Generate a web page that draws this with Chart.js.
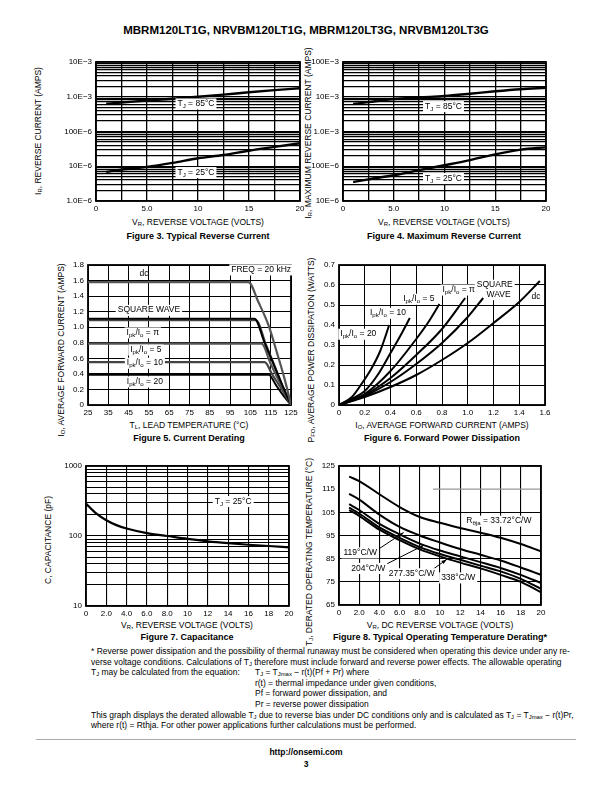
<!DOCTYPE html>
<html>
<head>
<meta charset="utf-8">
<script src="https://cdn.jsdelivr.net/npm/chart.js@4.4.1/dist/chart.umd.min.js"></script>
<style>
  body { margin: 0; width: 612px; height: 792px; position: relative; background: #fff;
         font-family: "Liberation Sans", Arial, Helvetica, sans-serif; color: #000; overflow: hidden; }
  .c { position: absolute; transform: translate(-50%, -50%); white-space: nowrap; font-size: 8.5px; }
  .r { position: absolute; transform: translate(-50%, -50%) rotate(-90deg); white-space: nowrap; font-size: 8.5px; }
  .cap { font-weight: bold; font-size: 9px; }
  .l { position: absolute; white-space: nowrap; font-size: 8.45px; }
  sub { font-size: 70%; vertical-align: -0.25em; line-height: 0; }
</style>
</head>
<body>

<div class="c" style="left:306px;top:30px;font-weight:bold;font-size:11.5px">MBRM120LT1G, NRVBM120LT1G, MBRM120LT3G, NRVBM120LT3G</div>

<!-- axis titles + captions -->
<div class="r" style="left:38px;top:131px">I<sub>R</sub>, REVERSE CURRENT (AMPS)</div>
<div class="c" style="left:198px;top:222px">V<sub>R</sub>, REVERSE VOLTAGE (VOLTS)</div>
<div class="c cap" style="left:198px;top:236px">Figure 3. Typical Reverse Current</div>

<div class="r" style="left:308px;top:133px">I<sub>R</sub>, MAXIMUM REVERSE CURRENT (AMPS)</div>
<div class="c" style="left:444px;top:222px">V<sub>R</sub>, REVERSE VOLTAGE (VOLTS)</div>
<div class="c cap" style="left:444px;top:236px">Figure 4. Maximum Reverse Current</div>

<div class="r" style="left:61px;top:350px">I<sub>O</sub>, AVERAGE FORWARD CURRENT (AMPS)</div>
<div class="c" style="left:189px;top:425px">T<sub>L</sub>, LEAD TEMPERATURE (°C)</div>
<div class="c cap" style="left:189px;top:438px">Figure 5. Current Derating</div>

<div class="r" style="left:311px;top:350px">P<sub>FO</sub>, AVERAGE POWER DISSIPATION (WATTS)</div>
<div class="c" style="left:442px;top:425px">I<sub>O</sub>, AVERAGE FORWARD CURRENT (AMPS)</div>
<div class="c cap" style="left:442px;top:438px">Figure 6. Forward Power Dissipation</div>

<div class="r" style="left:48px;top:540px">C, CAPACITANCE (pF)</div>
<div class="c" style="left:187px;top:625px">V<sub>R</sub>, REVERSE VOLTAGE (VOLTS)</div>
<div class="c cap" style="left:187px;top:637px">Figure 7. Capacitance</div>

<div class="r" style="left:309px;top:552px">T<sub>J</sub>, DERATED OPERATING TEMPERATURE (°C)</div>
<div class="c" style="left:440px;top:625px">V<sub>R</sub>, DC REVERSE VOLTAGE (VOLTS)</div>
<div class="c cap" style="left:440px;top:637px">Figure 8. Typical Operating Temperature Derating*</div>

<!-- footnote -->
<div class="l" style="left:91px;top:646px">* Reverse power dissipation and the possibility of thermal runaway must be considered when operating this device under any re-</div>
<div class="l" style="left:91px;top:656.6px">verse voltage conditions. Calculations of T<sub>J</sub> therefore must include forward and reverse power effects. The allowable operating</div>
<div class="l" style="left:91px;top:667.2px">T<sub>J</sub> may be calculated from the equation:</div>
<div class="l" style="left:255px;top:667.2px">T<sub>J</sub> = T<sub>Jmax</sub> − r(t)(Pf + Pr) where</div>
<div class="l" style="left:255px;top:677.8px">r(t) = thermal impedance under given conditions,</div>
<div class="l" style="left:255px;top:688.4px">Pf = forward power dissipation, and</div>
<div class="l" style="left:255px;top:699px">Pr = reverse power dissipation</div>
<div class="l" style="left:91px;top:709.6px">This graph displays the derated allowable T<sub>J</sub> due to reverse bias under DC conditions only and is calculated as T<sub>J</sub> = T<sub>Jmax</sub> − r(t)Pr,</div>
<div class="l" style="left:91px;top:720.2px">where r(t) = Rthja. For other power applications further calculations must be performed.</div>

<div style="position:absolute;left:36px;top:739px;width:540px;height:0;border-top:1px solid #aaa"></div>
<div class="c" style="left:306px;top:752px;font-weight:bold;font-size:8.5px">http://onsemi.com</div>
<div class="c" style="left:306px;top:764px;font-weight:bold;font-size:8.5px">3</div>

<script>
/* ============================================================
   DATA
============================================================ */
// Figure 3 / 4 : reverse current vs reverse voltage
const revX = [1, 2.5, 5, 7.5, 10, 12.5, 15, 17.5, 20];
const fig3Hot  = [6.3e-4, 6.8e-4, 7.8e-4, 8.8e-4, 1.0e-3, 1.15e-3, 1.35e-3, 1.55e-3, 1.75e-3];
const fig3Cold = [6.9e-6, 8.0e-6, 9.6e-6, 1.25e-5, 1.7e-5, 2.1e-5, 2.8e-5, 3.6e-5, 4.6e-5];
const fig4Hot  = [6.2e-3, 7.0e-3, 8.6e-3, 9.6e-3, 1.05e-2, 1.22e-2, 1.44e-2, 1.65e-2, 1.8e-2];
const fig4Cold = [3.5e-5, 4.2e-5, 5.5e-5, 7.7e-5, 1.07e-4, 1.5e-4, 2.2e-4, 3.0e-4, 3.5e-4];
const revXLabels = ["0", "", "5.0", "", "10", "", "15", "", "20"];
const fig3YVals   = [1e-6, 1e-5, 1e-4, 1e-3, 1e-2];
const fig3YLabels = ["1.0E−6", "10E−6", "100E−6", "1.0E−3", "10E−3"];
const fig4YVals   = [1e-5, 1e-4, 1e-3, 1e-2, 1e-1];
const fig4YLabels = ["10E−6", "100E−6", "1.0E−3", "10E−3", "100E−3"];

// Figure 5 : current derating  [lead temp, amps]
const fig5Dc     = [[25, 1.58], [104, 1.58], [109, 1.32], [114, 1.02], [118, 0.68], [122, 0.32], [125, 0]];
const fig5Square = [[25, 1.11], [107, 1.11], [112, 0.8], [116.5, 0.52], [121, 0.24], [125, 0]];
const fig5Pi     = [[25, 1.09], [108, 1.09], [112.5, 0.79], [117, 0.5], [121, 0.23], [125, 0]];
const fig5R5     = [[25, 0.79], [110.5, 0.79], [115, 0.53], [120, 0.26], [125, 0]];
const fig5R10    = [[25, 0.55], [112, 0.55], [116, 0.38], [120.5, 0.2], [125, 0]];
const fig5R20    = [[25, 0.39], [114, 0.39], [117.5, 0.26], [121, 0.13], [125, 0]];
const fig5XLabels = ["25", "35", "45", "55", "65", "75", "85", "95", "105", "115", "125"];
const fig5YLabels = ["0", "0.2", "0.4", "0.6", "0.8", "1.0", "1.2", "1.4", "1.6", "1.8"];

// Figure 6 : forward power dissipation  [amps, watts]
const fig6R20    = [[0, 0], [0.1, 0.04], [0.18, 0.11], [0.25, 0.18], [0.32, 0.27], [0.39, 0.4]];
const fig6R10    = [[0, 0], [0.1, 0.03], [0.2, 0.07], [0.3, 0.15], [0.4, 0.26], [0.48, 0.35], [0.55, 0.435]];
const fig6R5     = [[0, 0], [0.2, 0.055], [0.4, 0.17], [0.6, 0.33], [0.7, 0.42], [0.78, 0.505]];
const fig6Pi     = [[0, 0], [0.2, 0.05], [0.4, 0.135], [0.6, 0.25], [0.8, 0.38], [0.98, 0.535]];
const fig6Square = [[0, 0], [0.2, 0.045], [0.4, 0.115], [0.6, 0.205], [0.8, 0.31], [1.0, 0.44], [1.12, 0.535]];
const fig6Dc     = [[0, 0], [0.2, 0.04], [0.4, 0.09], [0.6, 0.15], [0.8, 0.225], [1.0, 0.31], [1.2, 0.41], [1.4, 0.515], [1.56, 0.62]];
const fig6XLabels = ["0", "0.2", "0.4", "0.6", "0.8", "1.0", "1.2", "1.4", "1.6"];
const fig6YLabels = ["0", "0.1", "0.2", "0.3", "0.4", "0.5", "0.6", "0.7"];

// Figure 7 : capacitance
const fig7X = [0, 1, 2, 3, 4, 6, 8, 10, 12, 14, 16, 18, 20];
const fig7C = [290, 210, 168, 143, 128, 110, 100, 91, 84, 79, 75, 72, 69];
const fig7YVals   = [10, 100, 1000];
const fig7YLabels = ["10", "100", "1000"];
const vr20Labels = ["0", "2.0", "4.0", "6.0", "8.0", "10", "12", "14", "16", "18", "20"];

// Figure 8 : operating temperature derating
const fig8X = [1, 2, 4, 6, 8, 10, 12, 14, 16, 18, 20];
const fig8R33  = [120.4, 118.5, 112.8, 107.3, 103, 100.5, 98.2, 96.2, 94, 91.3, 88.2];
const fig8R119 = [113, 110.5, 104, 98.7, 95, 92, 89.2, 86.7, 84.2, 81.2, 78];
const fig8R204 = [108.5, 106, 100, 95.5, 91.5, 88.5, 86, 83.5, 81, 78, 74.5];
const fig8R277 = [107, 104.5, 98.5, 94, 90, 87, 84.5, 82, 79.5, 76.3, 72];
const fig8R338 = [106, 103.5, 97.5, 93, 89, 86, 83.3, 80.8, 78, 75, 70.5];
const fig8YLabels = ["65", "75", "85", "95", "105", "115", "125"];

/* ============================================================
   HELPERS
============================================================ */
const FONT = '"Liberation Sans", Arial, Helvetica, sans-serif';
Chart.defaults.font.family = FONT;
Chart.defaults.font.size = 8;
Chart.defaults.color = "#000";
Chart.defaults.animation = false;

const PAD = { l: 46, r: 16, t: 8, b: 16 };

const xy = (xs, ys) => xs.map((x, i) => ({ x, y: ys[i] }));
const pts = (arr) => arr.map(([x, y]) => ({ x, y }));

function logTicks(min, max) {
  const out = [];
  for (let d = min; d < max * 1.001; d *= 10) {
    for (let k = 1; k <= 9; k++) {
      const v = k * d;
      if (v <= max * 1.0001) out.push(v);
    }
  }
  return out;
}
const logLabel = (vals, labels) => (v) => {
  const i = vals.findIndex((t) => Math.abs(Math.log10(t) - Math.log10(v)) < 1e-6);
  return i >= 0 ? labels[i] : "";
};

function parseRich(s) {
  const out = [];
  const re = /_\{([^}]*)\}/g;
  let last = 0, m;
  while ((m = re.exec(s))) {
    if (m.index > last) out.push({ t: s.slice(last, m.index) });
    out.push({ t: m[1], sub: true });
    last = re.lastIndex;
  }
  if (last < s.length) out.push({ t: s.slice(last) });
  return out;
}

function drawRich(ctx, s, x, y, align, bg, size) {
  const parts = parseRich(s);
  const fMain = `${size}px ${FONT}`;
  const fSub = `${(size * 0.72).toFixed(1)}px ${FONT}`;
  let w = 0;
  parts.forEach((p) => { ctx.font = p.sub ? fSub : fMain; p.w = ctx.measureText(p.t).width; w += p.w; });
  let x0 = align === "left" ? x : align === "right" ? x - w : x - w / 2;
  if (bg) {
    ctx.fillStyle = "#fff";
    ctx.fillRect(x0 - 2, y - size * 0.62, w + 4, size * 1.3);
  }
  ctx.fillStyle = "#000";
  ctx.textBaseline = "middle";
  ctx.textAlign = "left";
  parts.forEach((p) => {
    ctx.font = p.sub ? fSub : fMain;
    ctx.fillText(p.t, x0, y + (p.sub ? size * 0.3 : 0));
    x0 += p.w;
  });
}

// plot frame + partial lines, drawn over the grid
const framePlugin = {
  id: "frame",
  beforeDatasetsDraw(chart, args, opts) {
    const { ctx, chartArea: a, scales } = chart;
    ctx.save();
    (opts.lines || []).forEach((ln) => {
      const py = scales.y.getPixelForValue(ln.y);
      ctx.strokeStyle = ln.color;
      ctx.lineWidth = ln.width || 1.2;
      ctx.beginPath();
      ctx.moveTo(scales.x.getPixelForValue(ln.x0), py);
      ctx.lineTo(scales.x.getPixelForValue(ln.x1), py);
      ctx.stroke();
    });
    ctx.strokeStyle = "#000";
    ctx.lineWidth = opts.width || 1.8;
    ctx.strokeRect(a.left, a.top, a.right - a.left, a.bottom - a.top);
    ctx.restore();
  },
};

// curve labels and leader arrows
const notesPlugin = {
  id: "notes",
  afterDatasetsDraw(chart, args, opts) {
    const { ctx, scales: { x, y } } = chart;
    ctx.save();
    (opts.arrows || []).forEach((a) => {
      const x1 = x.getPixelForValue(a.from[0]), y1 = y.getPixelForValue(a.from[1]);
      const x2 = x.getPixelForValue(a.to[0]), y2 = y.getPixelForValue(a.to[1]);
      ctx.strokeStyle = "#000";
      ctx.lineWidth = 1;
      ctx.beginPath();
      ctx.moveTo(x1, y1);
      ctx.lineTo(x2, y2);
      ctx.stroke();
      const ang = Math.atan2(y2 - y1, x2 - x1);
      ctx.fillStyle = "#000";
      ctx.beginPath();
      ctx.moveTo(x2, y2);
      ctx.lineTo(x2 - 6 * Math.cos(ang - 0.3), y2 - 6 * Math.sin(ang - 0.3));
      ctx.lineTo(x2 - 6 * Math.cos(ang + 0.3), y2 - 6 * Math.sin(ang + 0.3));
      ctx.closePath();
      ctx.fill();
    });
    (opts.items || []).forEach((n) => {
      drawRich(ctx, n.text, x.getPixelForValue(n.x), y.getPixelForValue(n.y),
        n.align || "center", n.bg !== false, n.size || 8.5);
    });
    ctx.restore();
  },
};

function curve(data, color, width) {
  return {
    data,
    borderColor: color || "#000",
    borderWidth: width || 2,
    pointRadius: 0,
    fill: false,
    cubicInterpolationMode: "monotone",
  };
}

function grid(w, colorFn) {
  return { color: colorFn || "#000", lineWidth: w, drawTicks: false };
}

function makePanel(box, xScale, yScale, datasets, notes, frame) {
  const cv = document.createElement("canvas");
  const w = box.R - box.L + PAD.l + PAD.r;
  const h = box.B - box.T + PAD.t + PAD.b;
  cv.width = w;
  cv.height = h;
  cv.style.cssText = `position:absolute;left:${box.L - PAD.l}px;top:${box.T - PAD.t}px;width:${w}px;height:${h}px`;
  document.body.appendChild(cv);

  xScale.afterFit = (s) => { s.height = PAD.b; s.paddingLeft = 0; s.paddingRight = 0; };
  yScale.afterFit = (s) => { s.width = PAD.l; s.paddingTop = 0; s.paddingBottom = 0; };
  xScale.border = { display: false };
  yScale.border = { display: false };

  return new Chart(cv, {
    type: "line",
    data: { datasets },
    options: {
      responsive: false,
      animation: false,
      layout: { padding: { top: PAD.t, right: PAD.r, left: 0, bottom: 0 } },
      plugins: { legend: { display: false }, tooltip: { enabled: false }, notes: notes || {}, frame: frame || {} },
      scales: { x: xScale, y: yScale },
    },
    plugins: [framePlugin, notesPlugin],
  });
}

const linX = (min, max, step, labels, gw) => ({
  type: "linear", min, max,
  ticks: { stepSize: step, autoSkip: false, maxRotation: 0, padding: 3, callback: (v, i) => labels[i] },
  grid: grid(gw || 1),
});
const linY = (min, max, step, labels, gw, colorFn) => ({
  type: "linear", min, max,
  ticks: { stepSize: step, autoSkip: false, padding: 4, callback: (v, i) => labels[i] },
  grid: grid(gw || 1, colorFn),
});
const logY = (min, max, vals, labels, gw) => ({
  type: "logarithmic", min, max,
  afterBuildTicks: (s) => { s.ticks = logTicks(min, max).map((v) => ({ value: v })); },
  ticks: { autoSkip: false, padding: 4, callback: logLabel(vals, labels) },
  grid: grid(gw || 1),
});

/* ============================================================
   FIGURE 3 — TYPICAL REVERSE CURRENT
============================================================ */
makePanel(
  { L: 96, T: 62, R: 300, B: 201 },
  linX(0, 20, 2.5, revXLabels, 1.3),
  logY(1e-6, 1e-2, fig3YVals, fig3YLabels, 1.3),
  [curve(xy(revX, fig3Hot), "#000", 2.4), curve(xy(revX, fig3Cold), "#000", 2.4)],
  { items: [
    { text: "T_{J} = 85°C", x: 9.8, y: 6.3e-4 },
    { text: "T_{J} = 25°C", x: 9.8, y: 6.7e-6 },
  ] }
);

/* ============================================================
   FIGURE 4 — MAXIMUM REVERSE CURRENT
============================================================ */
makePanel(
  { L: 343, T: 62, R: 546, B: 201 },
  linX(0, 20, 2.5, revXLabels, 1.3),
  logY(1e-5, 1e-1, fig4YVals, fig4YLabels, 1.3),
  [curve(xy(revX, fig4Hot), "#000", 2.4), curve(xy(revX, fig4Cold), "#000", 2.4)],
  { items: [
    { text: "T_{J} = 85°C", x: 9.9, y: 5.3e-3 },
    { text: "T_{J} = 25°C", x: 9.9, y: 4.5e-5 },
  ] }
);

/* ============================================================
   FIGURE 5 — CURRENT DERATING
============================================================ */
makePanel(
  { L: 88, T: 265, R: 291, B: 405 },
  linX(25, 125, 10, fig5XLabels, 1),
  linY(0, 1.8, 0.2, fig5YLabels, 1),
  [
    curve(pts(fig5Dc), "#555", 2.2),
    curve(pts(fig5Square), "#000", 2),
    curve(pts(fig5Pi), "#444", 2),
    curve(pts(fig5R5), "#555", 2.2),
    curve(pts(fig5R10), "#444", 2.2),
    curve(pts(fig5R20), "#000", 2),
  ],
  { items: [
    { text: "dc", x: 52.6, y: 1.69, bg: false },
    { text: "FREQ = 20 kHz", x: 110.3, y: 1.74 },
    { text: "SQUARE WAVE", x: 55, y: 1.22 },
    { text: "I_{pk}/I_{o} = π", x: 52, y: 0.93 },
    { text: "I_{pk}/I_{o} = 5", x: 53.5, y: 0.71 },
    { text: "I_{pk}/I_{o} = 10", x: 53, y: 0.54 },
    { text: "I_{pk}/I_{o} = 20", x: 53, y: 0.3 },
  ] }
);

/* ============================================================
   FIGURE 6 — FORWARD POWER DISSIPATION
============================================================ */
makePanel(
  { L: 339, T: 265, R: 545, B: 405 },
  linX(0, 1.6, 0.2, fig6XLabels, 1),
  linY(0, 0.7, 0.1, fig6YLabels, 1),
  [
    curve(pts(fig6R20)), curve(pts(fig6R10)), curve(pts(fig6R5)),
    curve(pts(fig6Pi)), curve(pts(fig6Square)), curve(pts(fig6Dc)),
  ],
  { items: [
    { text: "I_{pk}/I_{o} = 20", x: 0.15, y: 0.355 },
    { text: "I_{pk}/I_{o} = 10", x: 0.38, y: 0.46 },
    { text: "I_{pk}/I_{o} = 5", x: 0.62, y: 0.53 },
    { text: "I_{pk}/I_{o} = π", x: 0.93, y: 0.576 },
    { text: "SQUARE", x: 1.21, y: 0.6 },
    { text: "WAVE", x: 1.24, y: 0.553 },
    { text: "dc", x: 1.53, y: 0.54, bg: false },
  ] }
);

/* ============================================================
   FIGURE 7 — CAPACITANCE
============================================================ */
makePanel(
  { L: 86, T: 466, R: 289, B: 606 },
  linX(0, 20, 2, vr20Labels, 1.1),
  logY(10, 1000, fig7YVals, fig7YLabels, 1.1),
  [curve(xy(fig7X, fig7C), "#000", 2.2)],
  { items: [{ text: "T_{J} = 25°C", x: 14.5, y: 313 }] }
);

/* ============================================================
   FIGURE 8 — OPERATING TEMPERATURE DERATING
============================================================ */
makePanel(
  { L: 339, T: 466, R: 541, B: 605 },
  linX(0, 20, 2, vr20Labels, 1.1),
  linY(65, 125, 10, fig8YLabels, 1.1, (c) => (c.tick && c.tick.value === 115 ? "rgba(0,0,0,0)" : "#000")),
  [
    curve(xy(fig8X, fig8R33)), curve(xy(fig8X, fig8R119)), curve(xy(fig8X, fig8R204)),
    curve(xy(fig8X, fig8R277)), curve(xy(fig8X, fig8R338)),
  ],
  {
    items: [
      { text: "R_{θja} = 33.72°C/W", x: 12.6, y: 101.3, align: "left" },
      { text: "119°C/W", x: 2.1, y: 87.6 },
      { text: "204°C/W", x: 2.9, y: 80.9 },
      { text: "277.35°C/W", x: 7.2, y: 78.6 },
      { text: "338°C/W", x: 11.8, y: 76.8 },
    ],
    arrows: [
      { from: [3.7, 88.5], to: [6.4, 96.3] },
      { from: [4.4, 82.0], to: [8.4, 90.8] },
      { from: [9.3, 80.4], to: [10.7, 84.8] },
    ],
  },
  { lines: [{ y: 115, x0: 9.3, x1: 20, color: "#999", width: 1.2 }] }
);
</script>
</body>
</html>
